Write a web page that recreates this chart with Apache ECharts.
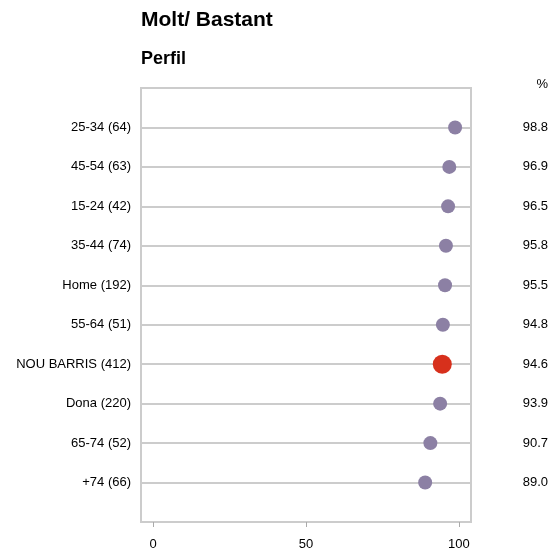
<!DOCTYPE html>
<html><head><meta charset="utf-8">
<script src="https://cdn.jsdelivr.net/npm/echarts@6/dist/echarts.min.js"></script>
<style>html,body{margin:0;padding:0;background:#fff}#c{width:558px;height:550px}</style>
</head><body><div id="c"></div>
<script>
var categories = ['25-34 (64)','45-54 (63)','15-24 (42)','35-44 (74)','Home (192)','55-64 (51)','NOU BARRIS (412)','Dona (220)','65-74 (52)','+74 (66)'];
var values = [98.8,96.9,96.5,95.8,95.5,94.8,94.6,93.9,90.7,89.0];
var highlight = 'NOU BARRIS (412)';
var xTicks = [0,50,100];
var unitLabel = '%';

var yCats = [''].concat(categories).concat(['']);
var yVals = [''].concat(values.map(function(v){return v.toFixed(1);})).concat(['']);
var font = 'Liberation Sans, Arial, Helvetica, sans-serif';

var chart = echarts.init(document.getElementById('c'));
chart.setOption({
  animation:false,
  textStyle:{fontFamily:font},
  title:[
    {text:'Molt/ Bastant', left:136, top:5, textStyle:{fontSize:21,fontWeight:'bold',color:'#000',fontFamily:font}},
    {text:'Perfil', left:136, top:45, textStyle:{fontSize:18,fontWeight:'bold',color:'#000',fontFamily:font}},
    {text:unitLabel, right:5, top:73, textStyle:{fontSize:13,fontWeight:'normal',color:'#000',fontFamily:font}}
  ],
  grid:{left:141, right:87, top:88, bottom:28, show:true, borderColor:'#cccccc', borderWidth:2, containLabel:false, outerBoundsMode:'none'},
  xAxis:{type:'value', min:-4, max:104,
    axisLine:{show:false},
    axisTick:{show:true, length:5, customValues:xTicks, lineStyle:{color:'#aaaaaa'}},
    axisLabel:{customValues:xTicks, margin:16, fontSize:13, color:'#000', fontFamily:font},
    splitLine:{show:false}},
  yAxis:[
    {type:'category', data:yCats, inverse:true, boundaryGap:false,
     axisLine:{show:false}, axisTick:{show:false},
     axisLabel:{margin:10, fontSize:13, color:'#000', fontFamily:font, interval:0},
     splitLine:{show:true, lineStyle:{color:'#cccccc', width:2}}},
    {type:'category', data:yVals, inverse:true, boundaryGap:false, position:'right',
     axisLine:{show:false}, axisTick:{show:false},
     axisLabel:{margin:77, align:'right', fontSize:13, color:'#000', fontFamily:font, interval:0},
     splitLine:{show:false}}
  ],
  series:[{
    type:'scatter',
    data:categories.map(function(c,i){
      var hi = c===highlight;
      return {value:[values[i], c], symbolSize: hi?19:14, itemStyle:{color: hi?'#d7301c':'#8c80a4', opacity:1}};
    }),
    z:5
  }]
});
</script></body></html>
